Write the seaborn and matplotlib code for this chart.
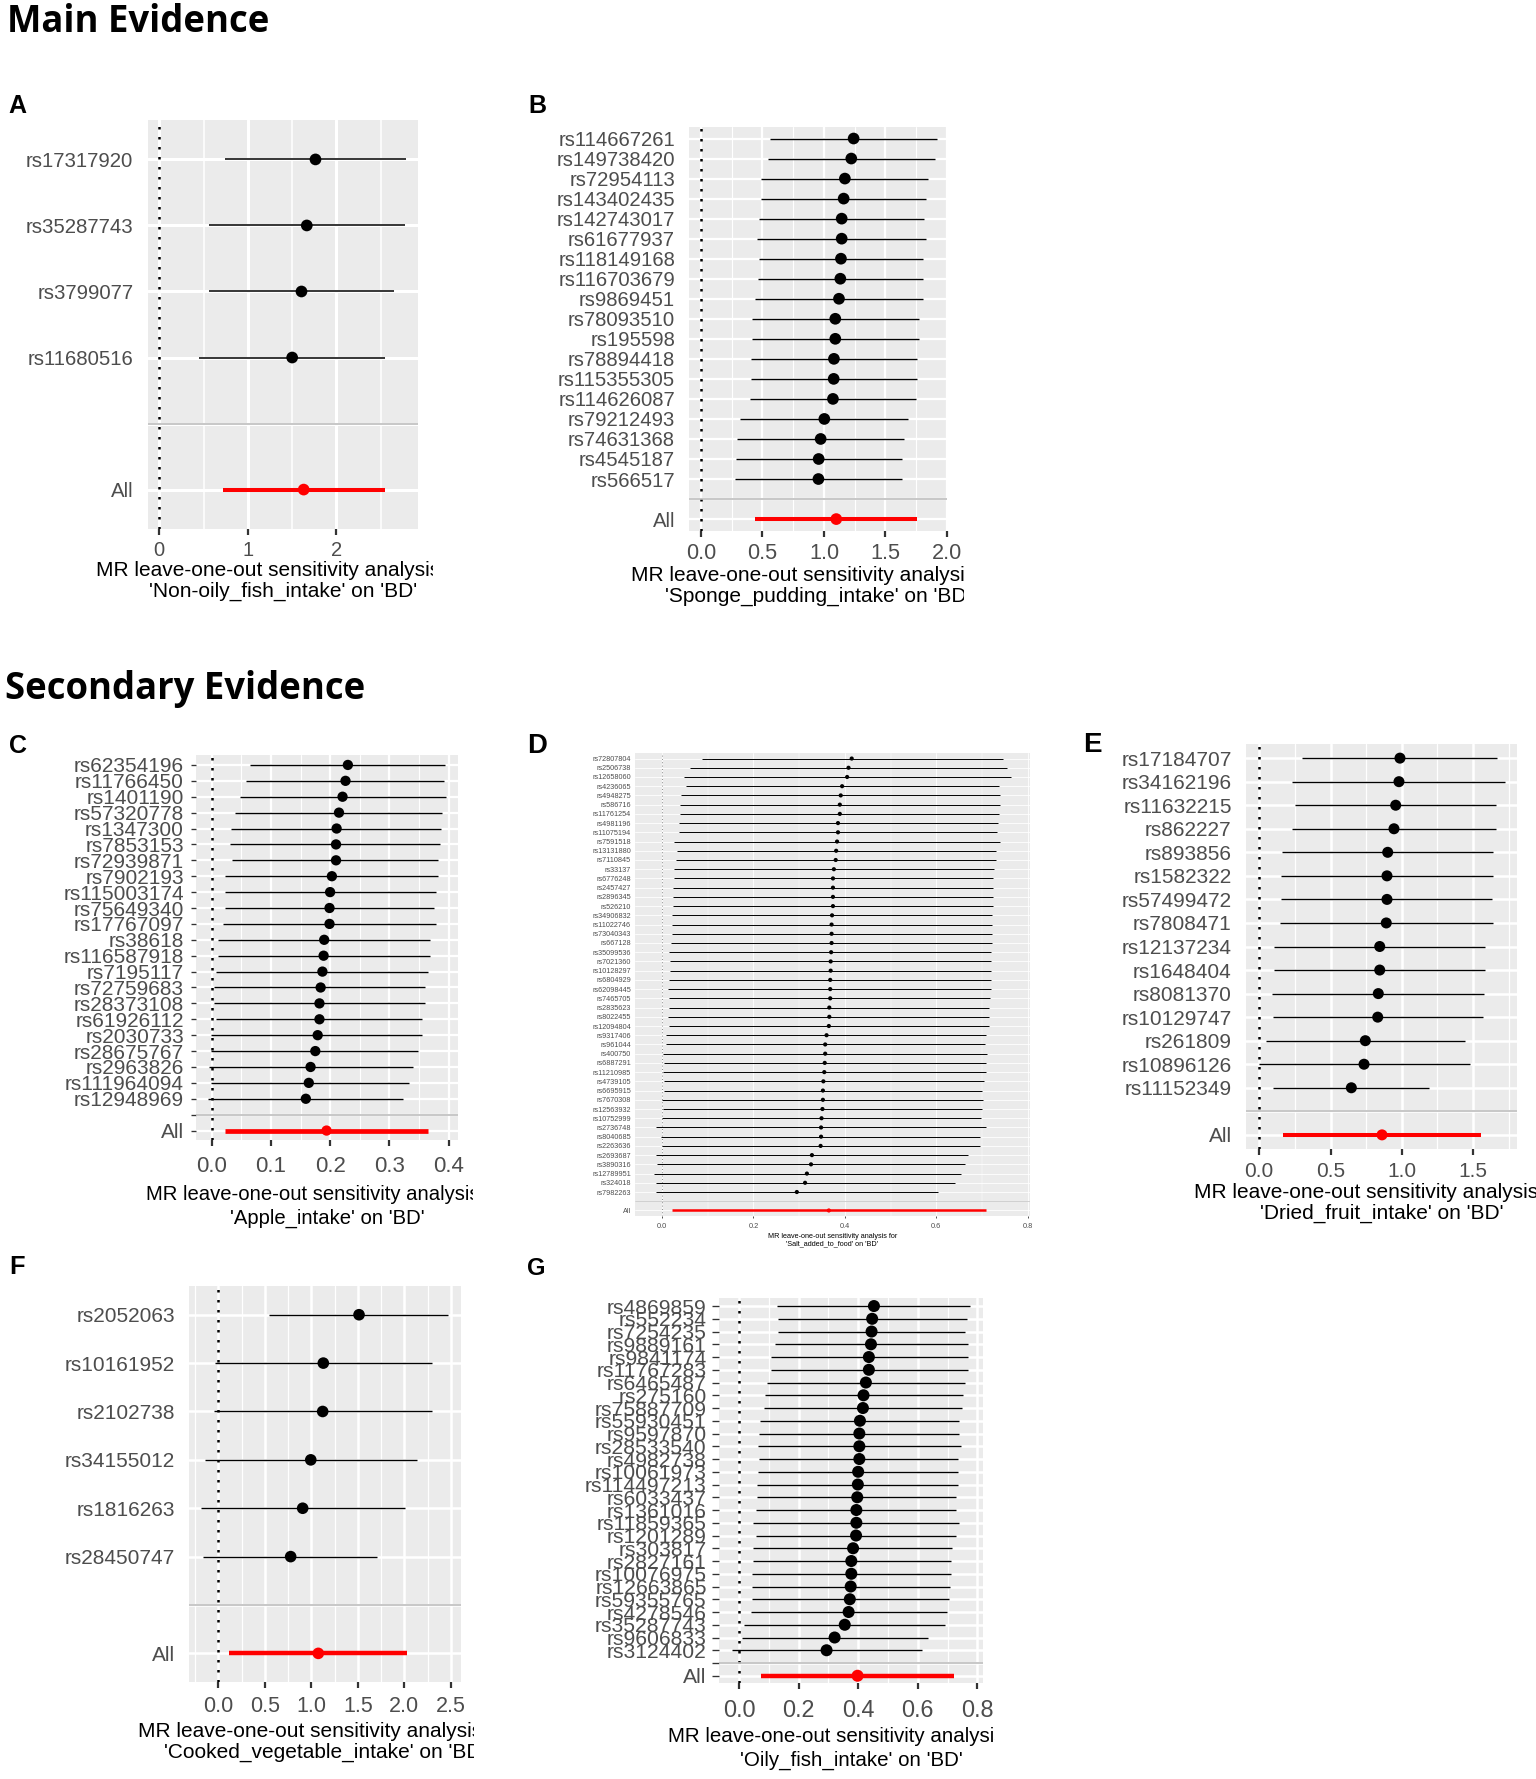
import matplotlib
matplotlib.use("Agg")
import matplotlib.pyplot as plt
from matplotlib.ticker import MultipleLocator
from matplotlib.transforms import Bbox, TransformedBbox
import numpy as np
import pandas as pd
import seaborn as sns

W, H = 1536, 1779

# ---- data (estimate, leave-one-out b with 95% CI) ----
snps_a = ["rs17317920", "rs35287743", "rs3799077", "rs11680516"]
b_a = [1.763, 1.665, 1.605, 1.500]
lo_a = [0.744, 0.557, 0.557, 0.451]
hi_a = [2.789, 2.774, 2.650, 2.545]
all_a = [1.630, 0.722, 2.545]

snps_b = ["rs114667261", "rs149738420", "rs72954113", "rs143402435", "rs142743017",
          "rs61677937", "rs118149168", "rs116703679", "rs9869451", "rs78093510",
          "rs195598", "rs78894418", "rs115355305", "rs114626087", "rs79212493",
          "rs74631368", "rs4545187", "rs566517"]
b_b = [1.241, 1.222, 1.170, 1.160, 1.144, 1.144, 1.138, 1.133, 1.122, 1.092,
       1.092, 1.081, 1.079, 1.073, 1.003, 0.973, 0.957, 0.955]
lo_b = [0.560, 0.546, 0.487, 0.487, 0.476, 0.457, 0.473, 0.460, 0.443, 0.416,
        0.416, 0.406, 0.403, 0.400, 0.316, 0.297, 0.281, 0.276]
hi_b = [1.917, 1.900, 1.849, 1.828, 1.811, 1.828, 1.806, 1.806, 1.801, 1.771,
        1.771, 1.755, 1.755, 1.749, 1.687, 1.652, 1.636, 1.636]
all_b = [1.100, 0.443, 1.755]

snps_c = ["rs62354196", "rs11766450", "rs1401190", "rs57320778", "rs1347300",
          "rs7853153", "rs72939871", "rs7902193", "rs115003174", "rs75649340",
          "rs17767097", "rs38618", "rs116587918", "rs7195117", "rs72759683",
          "rs28373108", "rs61926112", "rs2030733", "rs28675767", "rs2963826",
          "rs111964094", "rs12948969"]
b_c = [0.230, 0.226, 0.221, 0.215, 0.211, 0.210, 0.210, 0.203, 0.200, 0.199, 0.199,
       0.190, 0.189, 0.187, 0.184, 0.182, 0.182, 0.179, 0.175, 0.167, 0.164, 0.159]
lo_c = [0.065, 0.058, 0.048, 0.039, 0.033, 0.031, 0.034, 0.023, 0.023, 0.023, 0.019,
        0.011, 0.010, 0.007, 0.004, 0.004, 0.007, -0.001, -0.001, -0.004, -0.002, -0.006]
hi_c = [0.394, 0.392, 0.396, 0.389, 0.387, 0.386, 0.382, 0.382, 0.378, 0.376, 0.378,
        0.368, 0.369, 0.366, 0.361, 0.360, 0.355, 0.356, 0.348, 0.340, 0.333, 0.323]
all_c = [0.194, 0.023, 0.365]

snps_d = ["rs72807804", "rs2506738", "rs12658060", "rs4236065", "rs4948275", "rs586716",
          "rs11761254", "rs4981196", "rs11075194", "rs7591518", "rs13131880", "rs7110845",
          "rs33137", "rs6776248", "rs2457427", "rs2896345", "rs526210", "rs34906832",
          "rs11022746", "rs73040343", "rs667128", "rs35099536", "rs7021360", "rs10128297",
          "rs6804929", "rs62098445", "rs7465705", "rs2835623", "rs8022455", "rs12094804",
          "rs9317406", "rs961044", "rs400750", "rs6887291", "rs11210985", "rs4739105",
          "rs6695915", "rs7670308", "rs12563932", "rs10752999", "rs2736748", "rs8040685",
          "rs2263636", "rs2693687", "rs3890316", "rs12789951", "rs324018", "rs7982263"]
b_d = [0.415, 0.408, 0.405, 0.394, 0.391, 0.389, 0.389, 0.385, 0.385, 0.383, 0.381, 0.380,
       0.376, 0.374, 0.374, 0.374, 0.374, 0.372, 0.371, 0.371, 0.371, 0.370, 0.369, 0.369,
       0.368, 0.368, 0.368, 0.366, 0.366, 0.365, 0.360, 0.357, 0.357, 0.356, 0.355, 0.353,
       0.352, 0.352, 0.351, 0.349, 0.348, 0.348, 0.347, 0.328, 0.326, 0.317, 0.313, 0.295]
lo_d = [0.087, 0.061, 0.048, 0.053, 0.042, 0.039, 0.039, 0.038, 0.038, 0.027, 0.033, 0.031,
        0.026, 0.026, 0.025, 0.025, 0.025, 0.022, 0.022, 0.021, 0.020, 0.016, 0.017, 0.018,
        0.016, 0.014, 0.016, 0.016, 0.014, 0.015, 0.009, 0.008, 0.002, 0.004, 0.002, 0.004,
        0.004, 0.000, 0.002, 0.000, -0.012, -0.002, 0.000, -0.012, -0.010, -0.018, -0.012, -0.013]
hi_d = [0.745, 0.754, 0.764, 0.737, 0.740, 0.740, 0.738, 0.734, 0.733, 0.740, 0.731, 0.730,
        0.727, 0.725, 0.725, 0.725, 0.725, 0.722, 0.722, 0.721, 0.721, 0.719, 0.719, 0.719,
        0.719, 0.720, 0.718, 0.716, 0.716, 0.715, 0.709, 0.707, 0.711, 0.708, 0.709, 0.704,
        0.700, 0.702, 0.700, 0.698, 0.709, 0.695, 0.695, 0.669, 0.663, 0.654, 0.640, 0.603]
all_d = [0.365, 0.021, 0.709]

snps_e = ["rs17184707", "rs34162196", "rs11632215", "rs862227", "rs893856", "rs1582322",
          "rs57499472", "rs7808471", "rs12137234", "rs1648404", "rs8081370", "rs10129747",
          "rs261809", "rs10896126", "rs11152349"]
b_e = [0.987, 0.980, 0.957, 0.945, 0.901, 0.896, 0.896, 0.891, 0.845, 0.845, 0.835, 0.831,
       0.744, 0.735, 0.646]
lo_e = [0.302, 0.229, 0.253, 0.229, 0.159, 0.154, 0.154, 0.143, 0.105, 0.101, 0.091, 0.094,
        0.047, -0.002, 0.098]
hi_e = [1.668, 1.724, 1.659, 1.659, 1.640, 1.638, 1.635, 1.638, 1.584, 1.586, 1.577, 1.570,
        1.441, 1.481, 1.193]
all_e = [0.861, 0.168, 1.556]

snps_f = ["rs2052063", "rs10161952", "rs2102738", "rs34155012", "rs1816263", "rs28450747"]
b_f = [1.513, 1.129, 1.122, 0.994, 0.907, 0.778]
lo_f = [0.548, -0.036, -0.050, -0.143, -0.183, -0.161]
hi_f = [2.466, 2.298, 2.298, 2.133, 2.007, 1.710]
all_f = [1.075, 0.115, 2.025]

snps_g = ["rs4869859", "rs552234", "rs7254235", "rs9889161", "rs9841174", "rs11767283",
          "rs6465487", "rs275160", "rs75887709", "rs55930451", "rs9597870", "rs28533540",
          "rs4982738", "rs10061973", "rs114497213", "rs6033437", "rs1361016", "rs11859365",
          "rs1201289", "rs303817", "rs2827161", "rs10076975", "rs12663865", "rs59355765",
          "rs4278546", "rs35287743", "rs9606833", "rs3124402"]
b_g = [0.453, 0.447, 0.445, 0.443, 0.436, 0.436, 0.426, 0.418, 0.416, 0.406, 0.404, 0.404,
       0.404, 0.400, 0.399, 0.397, 0.394, 0.394, 0.393, 0.383, 0.377, 0.377, 0.375, 0.372,
       0.368, 0.355, 0.321, 0.294]
lo_g = [0.128, 0.130, 0.132, 0.120, 0.107, 0.107, 0.095, 0.086, 0.084, 0.070, 0.068, 0.064,
        0.068, 0.064, 0.060, 0.060, 0.058, 0.048, 0.058, 0.048, 0.048, 0.045, 0.045, 0.044,
        0.039, 0.016, 0.011, -0.023]
hi_g = [0.775, 0.764, 0.760, 0.768, 0.770, 0.770, 0.758, 0.751, 0.747, 0.739, 0.739, 0.744,
        0.736, 0.736, 0.736, 0.730, 0.727, 0.738, 0.727, 0.716, 0.710, 0.710, 0.708, 0.706,
        0.699, 0.691, 0.635, 0.615]
all_g = [0.398, 0.073, 0.723]

exposures = ["Non-oily_fish_intake", "Sponge_pudding_intake", "Apple_intake",
             "Salt_added_to_food", "Dried_fruit_intake", "Cooked_vegetable_intake",
             "Oily_fish_intake"]

# ---- style ----
sns.set_theme(style="darkgrid", rc={"axes.facecolor": "#EBEBEB", "grid.color": "white"})
plt.rcParams["font.family"] = ["Liberation Sans", "DejaVu Sans"]

fig = plt.figure(figsize=(W / 100, H / 100), dpi=100)
fig.patch.set_facecolor("white")


def fx(x):
    return x / W


def fy(y):
    return 1 - y / H


def draw_panel(letter, let_pos, let_fs, box, snps, b, lo, hi, tot, exposure, xlim, ticks, fmt,
               minor, st):
    x0, y0, x1, y1 = box
    ax = fig.add_axes([fx(x0), fy(y1), (x1 - x0) / W, (y1 - y0) / H])
    n = len(snps)
    df = pd.DataFrame({"SNP": snps, "b": b, "lo": lo, "hi": hi, "y": np.arange(n + 2, 2, -1)})
    df_all = pd.DataFrame({"SNP": ["All"], "b": [tot[0]], "lo": [tot[1]], "hi": [tot[2]], "y": [1]})

    ax.axvline(0, color=st.get("zc", "black"), lw=st["zlw"], linestyle=(0, (1, 3)), zorder=2)
    ax.axhline(2, color="#BEBEBE", lw=st["sep"], zorder=2)
    ax.hlines(df["y"], df["lo"], df["hi"], color="black", lw=st["lw"], zorder=3)
    ax.hlines(df_all["y"], df_all["lo"], df_all["hi"], color="red", lw=st["lw_all"], zorder=3)
    sns.scatterplot(data=df, x="b", y="y", color="black", s=st["s"], edgecolor="none",
                    ax=ax, zorder=4)
    sns.scatterplot(data=df_all, x="b", y="y", color="red", s=st["s"], edgecolor="none",
                    ax=ax, zorder=4)

    ax.set_xlim(*xlim)
    ax.set_ylim(0.4, n + 2.6)
    ax.set_xlabel("")
    ax.set_ylabel("")
    ax.set_yticks(np.arange(1, n + 3))
    ax.set_yticklabels(["All", ""] + snps[::-1])
    ax.set_xticks(ticks)
    ax.set_xticklabels([fmt.format(t) for t in ticks])
    ax.xaxis.set_minor_locator(MultipleLocator(minor))
    ax.set_axisbelow(True)
    ax.grid(True, which="major", axis="both", color="white", lw=st["gmaj"])
    ax.grid(True, which="minor", axis="x", color="white", lw=st["gmin"])
    for s in ax.spines.values():
        s.set_visible(False)

    ax.tick_params(axis="x", which="major", bottom=True, length=st["xlen"] * 0.72,
                   width=st["tw"], color="#333333", labelsize=st["xfs"], labelcolor="#4D4D4D",
                   pad=(st["xgap"] - st["xlen"]) * 0.72)
    ax.tick_params(axis="y", which="major", left=st["ylen"] > 0, length=st["ylen"] * 0.72,
                   width=st["tw"] * 0.6, color="#333333", labelsize=st["yfs"],
                   labelcolor="#4D4D4D", pad=st["ygap"] * 0.72)
    ax.tick_params(which="minor", length=0)

    # axis title, two lines, clipped like the cropped original panels
    cx = (x0 + x1) / 2
    lines = ["MR leave-one-out sensitivity analysis for", "'%s' on 'BD'" % exposure]
    clip = None
    if st.get("clip"):
        clip = TransformedBbox(Bbox.from_extents(0, 0, fx(st["clip"]), 1), fig.transFigure)
    for txt, ly in zip(lines, st["lab_y"]):
        t = fig.text(fx(cx), fy(ly), txt, ha="center", va="center", fontsize=st["lfs"],
                     color="black")
        if clip is not None:
            t.set_clip_box(clip)
            t.set_clip_on(True)

    fig.text(fx(let_pos[0]), fy(let_pos[1]), letter, ha="left", va="top", fontsize=let_fs,
             fontweight="bold", color="black")
    return ax


base = dict(zlw=1.8, sep=1.2, lw=1.0, lw_all=2.9, s=68, gmaj=1.8, gmin=0.9, tw=1.6,
            xlen=6, ylen=0)

st_a = dict(base, yfs=14.7, xfs=14.5, lfs=15, ygap=14.7, xgap=12.3, lw=1.1, s=71,
            gmaj=2.2, gmin=1.1, lab_y=(571, 591.2), clip=433)
st_b = dict(base, yfs=14.6, xfs=15.6, lfs=15, ygap=14, xgap=12.1, s=71, gmaj=1.6,
            gmin=0.8, lab_y=(575.9, 596.6), clip=964)
st_c = dict(base, yfs=15.0, xfs=16, lfs=14.6, ygap=7, ylen=5, xgap=15.6, s=55,
            lw_all=3.4, gmaj=1.6, gmin=0.8, lab_y=(1194.5, 1218.6), clip=473)
st_d = dict(base, yfs=5.2, xfs=5.3, lfs=5.2, ygap=4, xgap=6.5, xlen=2, s=9, lw=0.7,
            lw_all=1.8, gmaj=0.6, gmin=0.3, tw=0.6, zlw=0.6, zc="#666666", sep=0.5,
            lab_y=(1236, 1244), clip=None)
st_e = dict(base, yfs=15, xfs=15, lfs=15, ygap=14, xgap=12.7, s=63,
            lab_y=(1193, 1213), clip=1536)
st_f = dict(base, yfs=15, xfs=15.5, lfs=15, ygap=14, xgap=14.1, s=70, lw_all=3.2,
            lab_y=(1731.6, 1752.2), clip=474)
st_g = dict(base, yfs=15.2, xfs=16.8, lfs=14.8, ygap=6, ylen=6.6, xgap=15.5, s=75,
            lw_all=3.2, lab_y=(1736.7, 1760.8), clip=995)

draw_panel("A", (8, 93.8), 18, (148, 119.8, 418, 529.2), snps_a, b_a, lo_a, hi_a, all_a,
           exposures[0], (-0.127, 2.92), [0, 1, 2], "{:.0f}", 0.5, st_a)
draw_panel("B", (528, 93.8), 18, (689, 126.5, 947, 531.1), snps_b, b_b, lo_b, hi_b, all_b,
           exposures[1], (-0.097, 1.995), [0, 0.5, 1.0, 1.5, 2.0], "{:.1f}", 0.25, st_b)
draw_panel("C", (9, 734), 18, (196, 755.4, 458, 1140.1), snps_c, b_c, lo_c, hi_c, all_c,
           exposures[2], (-0.0265, 0.416), [0, 0.1, 0.2, 0.3, 0.4], "{:.1f}", 0.05, st_c)
draw_panel("D", (527, 733), 19.8, (635, 753, 1030, 1216), snps_d, b_d, lo_d, hi_d, all_d,
           exposures[3], (-0.059, 0.805), [0, 0.2, 0.4, 0.6, 0.8], "{:.1f}", 0.1, st_d)
draw_panel("E", (1083, 732), 20, (1245.7, 744, 1517.3, 1149), snps_e, b_e, lo_e, hi_e, all_e,
           exposures[4], (-0.095, 1.81), [0, 0.5, 1.0, 1.5], "{:.1f}", 0.25, st_e)
draw_panel("F", (9, 1255.5), 18.3, (189, 1285.7, 460.7, 1682.4), snps_f, b_f, lo_f, hi_f, all_f,
           exposures[5], (-0.315, 2.606), [0, 0.5, 1.0, 1.5, 2.0, 2.5], "{:.1f}", 0.25, st_f)
draw_panel("G", (527, 1257.2), 17, (719.3, 1298.4, 982.7, 1683.4), snps_g, b_g, lo_g, hi_g, all_g,
           exposures[6], (-0.066, 0.818), [0, 0.2, 0.4, 0.6, 0.8], "{:.1f}", 0.1, st_g)

fig.text(fx(7), fy(32.5), "Main Evidence", ha="left", va="baseline", fontsize=26.3,
         fontweight="bold", family=["Open Sans", "DejaVu Sans"], color="black")
fig.text(fx(5), fy(698.8), "Secondary Evidence", ha="left", va="baseline", fontsize=26.3,
         fontweight="bold", family=["Open Sans", "DejaVu Sans"], color="black")

fig.savefig("out.png", dpi=100, facecolor="white")
